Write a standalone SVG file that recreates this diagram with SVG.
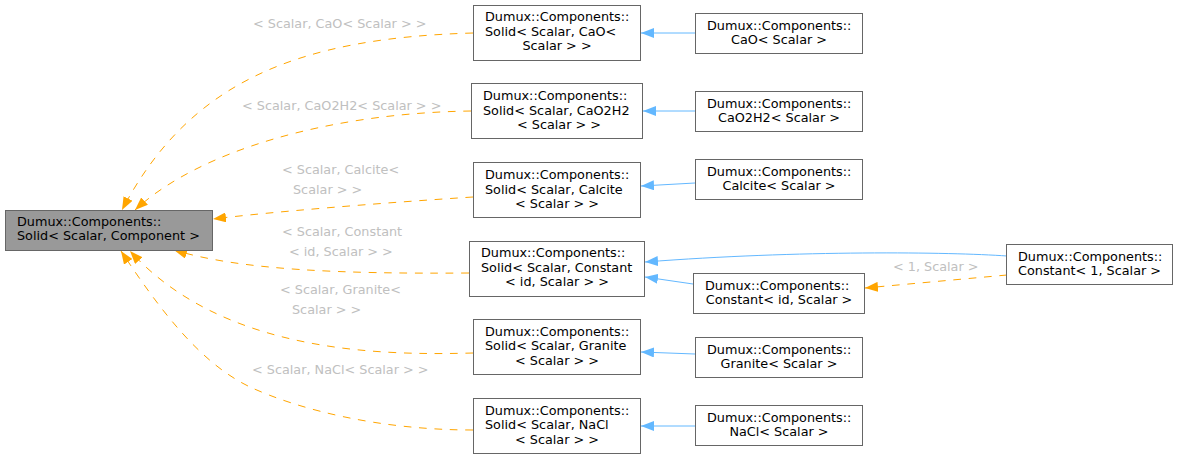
<svg xmlns="http://www.w3.org/2000/svg" width="1179" height="459" viewBox="0 0 1179 459">
<style>
text{font-family:"DejaVu Sans",sans-serif;font-size:12.8px;}
.n rect{fill:#ffffff;stroke:#666666;stroke-width:1;}
.root rect{fill:#999999;}
.n text{fill:#000000;}
.m{text-anchor:middle;}
.lbl{fill:#c0c0c0;}
.eo{fill:none;stroke:#ffa500;stroke-width:1;stroke-dasharray:7.7,7.7;marker-end:url(#ao);}
.eb{fill:none;stroke:#63b8ff;stroke-width:1;marker-end:url(#ab);}
</style>
<defs>
<marker id="ao" markerUnits="userSpaceOnUse" viewBox="0 0 13 10" markerWidth="13" markerHeight="10" refX="13" refY="5" orient="auto"><path d="M0,0 L13,5 L0,10 z" fill="#ffa500"/></marker>
<marker id="ab" markerUnits="userSpaceOnUse" viewBox="0 0 13 10" markerWidth="13" markerHeight="10" refX="13" refY="5" orient="auto"><path d="M0,0 L13,5 L0,10 z" fill="#63b8ff"/></marker>
</defs>
<g id="connectors">
<path class="eo" d="M473,33 C300,38 190,80 122,210"/>
<path class="eo" d="M471,111 C330,113 200,150 135,210"/>
<path class="eo" d="M473,197 C380,203 270,212 213,219"/>
<path class="eo" d="M469,273 C340,274 240,270 174,250"/>
<path class="eo" d="M473,353 C370,356 220,350 130,251"/>
<path class="eo" d="M473,430 C380,430 300,410 250,387 C200,363 160,310 121,251"/>
<path class="eo" d="M1007,275 L865,288"/>
<path class="eb" d="M695,33 L641,33"/>
<path class="eb" d="M695,111 L643,111"/>
<path class="eb" d="M695,183 L641,186"/>
<path class="eb" d="M1007,256 C950,252 800,250 645,262"/>
<path class="eb" d="M693,284 L645,277"/>
<path class="eb" d="M695,354 L641,352"/>
<path class="eb" d="M695,426 L641,426"/>
<text class="lbl" x="253" y="28">&lt; Scalar, CaO&lt; Scalar &gt; &gt;</text>
<text class="lbl" x="242" y="109.5">&lt; Scalar, CaO2H2&lt; Scalar &gt; &gt;</text>
<text class="lbl" x="282" y="174">&lt; Scalar, Calcite&lt;</text>
<text class="lbl" x="293" y="194">Scalar &gt; &gt;</text>
<text class="lbl" x="282" y="235.5">&lt; Scalar, Constant</text>
<text class="lbl" x="289" y="255.5">&lt; id, Scalar &gt; &gt;</text>
<text class="lbl" x="280" y="294">&lt; Scalar, Granite&lt;</text>
<text class="lbl" x="292" y="314">Scalar &gt; &gt;</text>
<text class="lbl" x="252" y="373.5">&lt; Scalar, NaCl&lt; Scalar &gt; &gt;</text>
<text class="lbl" x="893" y="270.5">&lt; 1, Scalar &gt;</text>
</g>
<g id="node-root" class="n root">
<rect x="5.5" y="210.5" width="207" height="40"/>
<text x="17" y="226">Dumux::Components::</text>
<text x="17" y="240">Solid&lt; Scalar, Component &gt;</text>
</g>
<g id="node-solid-cao" class="n">
<rect x="473.5" y="5.5" width="167" height="55"/>
<text x="485" y="21">Dumux::Components::</text>
<text x="485" y="35.5">Solid&lt; Scalar, CaO&lt;</text>
<text class="m" x="557" y="50">Scalar &gt; &gt;</text>
</g>
<g id="node-cao" class="n">
<rect x="695.5" y="13.5" width="167" height="40"/>
<text x="707" y="29.5">Dumux::Components::</text>
<text class="m" x="779" y="43.5">CaO&lt; Scalar &gt;</text>
</g>
<g id="node-solid-cao2h2" class="n">
<rect x="471.5" y="83.5" width="171" height="55"/>
<text x="483" y="100">Dumux::Components::</text>
<text x="483" y="114.5">Solid&lt; Scalar, CaO2H2</text>
<text class="m" x="559" y="129">&lt; Scalar &gt; &gt;</text>
</g>
<g id="node-cao2h2" class="n">
<rect x="695.5" y="91.5" width="167" height="40"/>
<text x="707" y="107.5">Dumux::Components::</text>
<text class="m" x="779" y="121.5">CaO2H2&lt; Scalar &gt;</text>
</g>
<g id="node-solid-calcite" class="n">
<rect x="473.5" y="162.5" width="167" height="55"/>
<text x="485" y="179">Dumux::Components::</text>
<text x="485" y="193.5">Solid&lt; Scalar, Calcite</text>
<text class="m" x="557" y="208">&lt; Scalar &gt; &gt;</text>
</g>
<g id="node-calcite" class="n">
<rect x="695.5" y="159.5" width="167" height="40"/>
<text x="707" y="175.5">Dumux::Components::</text>
<text class="m" x="779" y="189.5">Calcite&lt; Scalar &gt;</text>
</g>
<g id="node-solid-constant" class="n">
<rect x="469.5" y="241.5" width="175" height="55"/>
<text x="481" y="257">Dumux::Components::</text>
<text x="481" y="271.5">Solid&lt; Scalar, Constant</text>
<text class="m" x="557" y="286">&lt; id, Scalar &gt; &gt;</text>
</g>
<g id="node-constant-id" class="n">
<rect x="693.5" y="273.5" width="171" height="40"/>
<text x="705" y="289.5">Dumux::Components::</text>
<text class="m" x="779" y="303.5">Constant&lt; id, Scalar &gt;</text>
</g>
<g id="node-constant-1" class="n">
<rect x="1006.5" y="244.5" width="166" height="40"/>
<text x="1018" y="260.5">Dumux::Components::</text>
<text x="1018" y="274.5">Constant&lt; 1, Scalar &gt;</text>
</g>
<g id="node-solid-granite" class="n">
<rect x="473.5" y="319.5" width="167" height="55"/>
<text x="485" y="335.5">Dumux::Components::</text>
<text x="485" y="350">Solid&lt; Scalar, Granite</text>
<text class="m" x="557" y="364.5">&lt; Scalar &gt; &gt;</text>
</g>
<g id="node-granite" class="n">
<rect x="695.5" y="337.5" width="167" height="40"/>
<text x="707" y="354">Dumux::Components::</text>
<text class="m" x="779" y="368">Granite&lt; Scalar &gt;</text>
</g>
<g id="node-solid-nacl" class="n">
<rect x="473.5" y="398.5" width="167" height="55"/>
<text x="485" y="414.5">Dumux::Components::</text>
<text x="485" y="429">Solid&lt; Scalar, NaCl</text>
<text class="m" x="557" y="443.5">&lt; Scalar &gt; &gt;</text>
</g>
<g id="node-nacl" class="n">
<rect x="695.5" y="405.5" width="167" height="40"/>
<text x="707" y="422">Dumux::Components::</text>
<text class="m" x="779" y="436">NaCl&lt; Scalar &gt;</text>
</g>
</svg>
